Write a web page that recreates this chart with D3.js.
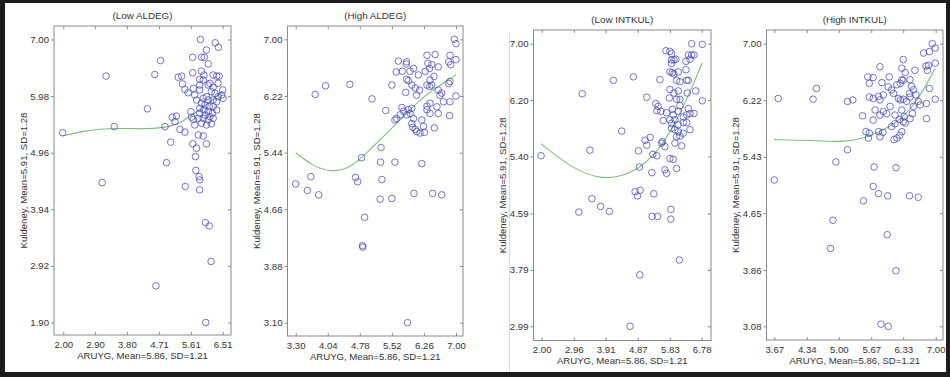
<!DOCTYPE html>
<html>
<head>
<meta charset="utf-8">
<script src="https://cdn.jsdelivr.net/npm/d3@7"></script>
<style>
  body { margin: 0; background: #fff; }
  svg text { font-family: "Liberation Sans", Arial, sans-serif; fill: #333; }
</style>
</head>
<body>
<div id="chart"></div>
<script>
// ---- data ----
const titles = ['(Low ALDEG)', '(High ALDEG)', '(Low INTKUL)', '(High INTKUL)'];
const xLabel = 'ARUYG, Mean=5.86, SD=1.21';
const yLabel = 'Kuldeney, Mean=5.91, SD=1.28';

const xTicksLowAldeg = [2.00, 2.90, 3.80, 4.71, 5.61, 6.51];
const yTicksLowAldeg = [7.00, 5.98, 4.96, 3.94, 2.92, 1.90];
const xTicksHighAldeg = [3.30, 4.04, 4.78, 5.52, 6.26, 7.00];
const yTicksHighAldeg = [7.00, 6.22, 5.44, 4.66, 3.88, 3.10];
const xTicksLowIntkul = [2.00, 2.96, 3.91, 4.87, 5.83, 6.78];
const yTicksLowIntkul = [7.00, 6.20, 5.40, 4.59, 3.79, 2.99];
const xTicksHighIntkul = [3.67, 4.34, 5.00, 5.67, 6.33, 7.00];
const yTicksHighIntkul = [7.00, 6.22, 5.43, 4.65, 3.86, 3.08];

const lowAldegPts = [
  [1.98,5.32],[3.21,6.34],[3.44,5.43],[3.10,4.42],[4.38,5.75],[4.75,6.62],[4.59,6.37],[4.88,5.43],
  [4.92,4.78],[5.04,5.15],[5.08,5.60],[5.20,5.62],[5.16,5.52],[5.25,6.32],[5.35,6.34],[5.30,5.38],
  [5.44,5.33],[5.37,6.20],[5.44,6.10],[5.53,6.04],[5.66,6.68],[5.66,6.40],[5.61,5.70],[5.68,5.56],
  [5.72,5.46],[5.63,5.60],[5.66,5.12],[5.77,5.04],[5.82,5.28],[5.96,5.26],[6.05,5.12],[5.88,7.00],
  [5.91,6.68],[5.99,6.68],[6.05,6.81],[6.10,6.56],[5.91,6.43],[5.98,6.36],[5.86,6.28],[5.96,6.27],
  [6.24,6.36],[6.34,6.34],[6.41,6.34],[6.30,6.94],[6.39,6.86],[6.15,6.21],[6.24,6.14],[6.19,6.06],
  [6.29,6.03],[6.51,6.09],[6.38,5.97],[6.52,5.94],[6.05,5.97],[6.10,5.91],[6.24,5.91],[6.34,5.88],
  [5.96,5.94],[5.91,5.85],[6.01,5.82],[6.13,5.79],[6.24,5.79],[6.34,5.73],[5.86,5.76],[5.98,5.73],
  [6.10,5.70],[6.22,5.67],[5.86,5.67],[6.01,5.64],[6.15,5.61],[5.82,5.58],[5.96,5.58],[6.10,5.55],
  [6.24,5.58],[5.91,5.49],[6.05,5.46],[6.19,5.48],[5.86,6.18],[6.10,6.18],[6.38,6.21],[5.86,6.09],
  [5.72,6.00],[5.77,5.91],[6.48,6.00],[5.68,6.12],[5.45,4.35],[5.86,4.47],[5.86,4.29],[6.02,3.70],
  [6.13,3.64],[6.18,3.00],[4.62,2.56],[6.03,1.90],[5.75,4.64],[5.84,4.53],[5.74,4.89]
];
const highAldegPts = [
  [3.30,5.01],[3.57,4.92],[3.65,5.11],[3.75,6.24],[3.99,6.36],[4.55,6.38],[5.06,6.18],[4.82,5.37],
  [4.68,5.10],[4.73,5.04],[5.27,5.51],[5.26,5.31],[5.59,5.31],[5.29,5.07],[6.21,5.29],[5.38,6.02],
  [5.52,6.37],[5.67,6.70],[5.86,6.69],[5.85,6.66],[5.62,6.55],[5.76,6.56],[6.02,6.60],[5.86,6.45],
  [5.90,6.43],[5.84,6.27],[5.98,6.37],[6.06,6.33],[6.16,6.30],[6.09,6.23],[6.33,6.78],[6.52,6.79],
  [6.35,6.67],[6.44,6.65],[6.59,6.62],[6.39,6.60],[6.29,6.56],[6.86,6.78],[6.83,6.69],[6.88,6.65],
  [7.00,6.72],[6.96,7.00],[7.00,6.94],[6.86,6.42],[6.83,6.39],[6.59,6.30],[6.63,6.23],[6.67,6.26],
  [7.00,6.22],[6.40,6.44],[6.33,6.37],[6.39,6.35],[6.44,6.37],[6.49,6.49],[6.71,6.14],[6.86,6.14],
  [6.56,6.07],[6.33,6.08],[6.40,5.98],[6.59,5.98],[6.85,5.95],[5.75,6.06],[5.79,6.01],[5.90,6.03],
  [5.98,6.05],[5.94,5.98],[5.86,5.96],[5.71,5.96],[5.63,5.91],[5.59,5.89],[6.02,5.91],[5.98,5.84],
  [6.21,5.89],[6.09,5.73],[6.17,5.71],[6.00,5.79],[6.06,5.76],[6.25,5.80],[6.50,5.78],[6.27,5.72],
  [6.33,6.03],[6.40,6.12],[5.94,6.56],[6.13,6.51],[3.83,4.86],[5.25,4.80],[5.52,4.81],[6.03,4.88],
  [6.46,4.88],[6.67,4.86],[4.89,4.55],[4.84,4.16],[4.85,4.14],[5.88,3.10]
];
const lowIntkulPts = [
  [1.98,5.41],[3.21,6.29],[3.44,5.49],[4.14,6.48],[4.39,5.76],[4.74,6.53],[4.89,5.48],[4.92,5.25],
  [5.09,5.63],[5.24,5.67],[5.14,5.56],[5.32,5.43],[5.44,5.41],[5.29,5.17],[5.14,6.24],[5.53,6.49],
  [5.41,6.15],[5.48,6.11],[5.44,6.05],[5.56,6.04],[5.61,5.61],[5.68,5.54],[5.58,5.59],[5.83,5.37],
  [5.93,5.36],[6.03,5.23],[5.68,5.21],[5.73,5.16],[5.63,5.91],[5.71,6.90],[5.83,6.89],[5.88,6.86],
  [5.88,6.77],[5.95,6.77],[6.01,6.78],[5.88,6.72],[5.83,6.60],[5.90,6.59],[5.95,6.57],[6.08,6.60],
  [6.03,6.48],[6.13,6.46],[6.31,6.63],[6.33,6.48],[6.38,6.48],[6.31,6.75],[6.38,6.84],[6.48,6.84],
  [6.55,6.84],[6.48,7.00],[6.80,6.99],[6.43,6.78],[5.83,6.35],[5.95,6.30],[6.08,6.33],[6.13,6.21],
  [6.03,6.21],[5.81,6.23],[6.35,6.30],[6.60,6.33],[6.80,6.19],[5.73,6.02],[5.91,6.07],[5.93,5.99],
  [6.08,6.04],[6.23,5.96],[6.33,5.99],[6.43,6.01],[6.55,6.01],[6.38,6.08],[6.13,6.12],[5.83,5.92],
  [5.88,5.87],[5.98,5.92],[6.08,5.85],[6.23,5.88],[6.33,5.88],[5.88,5.80],[5.98,5.78],[6.08,5.75],
  [6.13,5.69],[6.03,5.68],[6.18,5.55],[5.98,5.59],[6.43,5.78],[6.23,5.73],[3.11,4.61],[3.50,4.80],
  [3.76,4.69],[4.02,4.62],[4.79,4.90],[4.94,4.92],[4.86,4.84],[5.35,4.87],[5.30,4.55],[5.46,4.55],
  [5.86,4.65],[5.86,4.51],[6.11,3.93],[4.93,3.72],[4.64,2.99]
];
const highIntkulPts = [
  [3.67,5.11],[3.75,6.24],[4.47,6.23],[4.54,6.38],[4.94,5.36],[5.18,5.53],[5.18,6.20],[5.29,6.22],
  [5.49,6.00],[5.56,5.78],[5.63,5.76],[5.61,5.69],[5.73,5.29],[6.18,5.28],[5.71,5.02],[5.60,6.54],
  [5.71,6.53],[5.63,6.45],[5.85,6.68],[5.89,6.46],[5.92,6.29],[5.82,6.27],[5.85,6.22],[5.71,6.24],
  [5.63,6.26],[5.75,6.08],[5.71,5.94],[5.85,6.01],[5.92,6.06],[5.99,6.03],[5.82,5.78],[5.85,5.71],
  [5.91,5.77],[6.04,6.54],[6.09,6.36],[6.13,6.31],[6.20,6.43],[6.27,6.45],[6.30,6.50],[6.33,6.49],
  [6.47,6.50],[6.33,6.78],[6.30,6.66],[6.37,6.60],[6.57,6.63],[6.50,6.41],[6.54,6.36],[6.46,6.31],
  [6.16,6.01],[6.06,6.13],[6.27,6.22],[6.23,6.24],[6.33,6.23],[6.40,6.20],[6.47,6.26],[6.59,6.29],
  [6.64,6.20],[6.54,6.13],[6.68,6.15],[6.81,6.17],[6.09,5.85],[6.16,5.89],[6.25,5.95],[6.33,5.92],
  [6.37,5.90],[6.30,5.78],[6.26,5.73],[6.20,5.69],[6.14,5.67],[6.75,6.87],[6.80,6.69],[6.83,6.63],
  [6.85,6.70],[6.87,6.38],[6.99,6.73],[6.99,6.23],[6.81,5.96],[6.93,7.00],[6.99,6.94],[6.87,6.89],
  [6.30,6.08],[6.35,5.99],[6.47,5.96],[6.52,6.03],[6.02,6.40],[5.82,4.92],[6.01,4.89],[5.51,4.82],
  [6.46,4.89],[6.64,4.87],[4.88,4.55],[4.83,4.16],[6.00,4.35],[6.18,3.85],[5.87,3.11],[6.02,3.08]
];

// smoothed fit lines
const lowAldegFit = [[1.98,5.26],[2.5,5.34],[3.04,5.39],[3.6,5.40],[4.2,5.39],[4.64,5.40],[5.0,5.43],
  [5.3,5.49],[5.49,5.58],[5.86,5.73],[6.2,5.91],[6.52,6.06]];
const highAldegFit = [[3.30,5.44],[3.71,5.25],[4.13,5.17],[4.55,5.23],[4.86,5.39],[5.25,5.62],
  [5.63,5.84],[5.94,6.03],[6.25,6.21],[6.63,6.37],[7.00,6.51]];
const lowIntkulFit = [[1.98,5.58],[2.85,5.25],[3.69,5.08],[4.34,5.11],[4.84,5.21],[5.34,5.40],
  [5.83,5.73],[6.33,6.20],[6.80,6.73]];
const highIntkulFit = [[3.67,5.67],[4.41,5.66],[5.16,5.63],[5.64,5.71],[6.19,5.89],[6.60,6.17],[6.99,6.66]];

// ---- layout ----
const panels = [
  { title: titles[0], pts: lowAldegPts, fit: lowAldegFit, xt: xTicksLowAldeg, yt: yTicksLowAldeg,
    frame: [54, 26, 231, 335], xr: [63.3, 222.7], yr: [39.5, 322.5] },
  { title: titles[1], pts: highAldegPts, fit: highAldegFit, xt: xTicksHighAldeg, yt: yTicksHighAldeg,
    frame: [287.5, 26, 463, 336], xr: [295.7, 456], yr: [39.3, 322.7] },
  { title: titles[2], pts: lowIntkulPts, fit: lowIntkulFit, xt: xTicksLowIntkul, yt: yTicksLowIntkul,
    frame: [533.5, 30, 711, 340.5], xr: [541.7, 701.7], yr: [43.7, 326.3] },
  { title: titles[3], pts: highIntkulPts, fit: highIntkulFit, xt: xTicksHighIntkul, yt: yTicksHighIntkul,
    frame: [766.5, 30, 943, 340], xr: [774.3, 935.7], yr: [43.7, 326.3] }
];

const svg = d3.select('#chart')
  .append('svg')
  .attr('width', 950)
  .attr('height', 377);

svg.append('rect').attr('width', 950).attr('height', 377).attr('fill', '#fff');

// faint seam between the two halves of the figure
svg.append('line')
  .attr('x1', 509.5).attr('x2', 509.5)
  .attr('y1', 33).attr('y2', 372)
  .attr('stroke', '#dadada')
  .attr('stroke-width', 1);

panels.forEach(p => {
  const [x0, y0, x1, y1] = p.frame;
  const x = d3.scaleLinear().domain([p.xt[0], p.xt[p.xt.length - 1]]).range(p.xr);
  const y = d3.scaleLinear().domain([p.yt[0], p.yt[p.yt.length - 1]]).range(p.yr);

  const g = svg.append('g');

  // axes: labelled left and bottom, inward ticks on every side
  const fmt = d3.format('.2f');
  g.append('g').attr('transform', `translate(${x0},0)`)
    .call(d3.axisLeft(y).tickValues(p.yt).tickFormat(fmt).tickSize(3).tickPadding(2));
  g.append('g').attr('transform', `translate(0,${y1})`)
    .call(d3.axisBottom(x).tickValues(p.xt).tickFormat(fmt).tickSize(-3).tickPadding(6));
  g.append('g').attr('transform', `translate(${x1},0)`)
    .call(d3.axisRight(y).tickValues(p.yt).tickFormat('').tickSize(-3));
  g.append('g').attr('transform', `translate(0,${y0})`)
    .call(d3.axisTop(x).tickValues(p.xt).tickFormat('').tickSize(-3));

  g.selectAll('.domain').remove();
  g.selectAll('.tick line').attr('stroke', '#8a8a8a');
  g.selectAll('.tick text').style('font-size', '9.6px').attr('fill', '#333');

  g.append('rect')
    .attr('x', x0).attr('y', y0)
    .attr('width', x1 - x0).attr('height', y1 - y0)
    .attr('fill', 'none')
    .attr('stroke', '#8a8a8a')
    .attr('stroke-width', 1);

  // fitted curve
  g.append('path')
    .datum(p.fit)
    .attr('fill', 'none')
    .attr('stroke', '#7cc07c')
    .attr('stroke-width', 1.1)
    .attr('d', d3.line().x(d => x(d[0])).y(d => y(d[1])).curve(d3.curveBasis));

  // points
  g.selectAll('.pt')
    .data(p.pts)
    .enter()
    .append('circle')
    .attr('class', 'pt')
    .attr('cx', d => x(d[0]))
    .attr('cy', d => y(d[1]))
    .attr('r', 3.3)
    .attr('fill', 'none')
    .attr('stroke', '#4a4ab8')
    .attr('stroke-opacity', 0.85)
    .attr('stroke-width', 0.9);

  // texts
  const cx = (x0 + x1) / 2;
  g.append('text')
    .attr('x', cx).attr('y', y0 - 10)
    .attr('text-anchor', 'middle')
    .attr('dy', '0.35em')
    .style('font-size', '9.8px')
    .text(p.title);

  g.append('text')
    .attr('x', cx).attr('y', y1 + 20.5)
    .attr('text-anchor', 'middle')
    .attr('dy', '0.35em')
    .style('font-size', '9.6px')
    .text(xLabel);

  g.append('text')
    .attr('transform', `translate(${x0 - 30.5},${(y0 + y1) / 2}) rotate(-90)`)
    .attr('text-anchor', 'middle')
    .attr('dy', '0.35em')
    .style('font-size', '9.6px')
    .text(yLabel);
});

// dark picture border
const border = '#1c1c1c';
svg.append('rect').attr('x', 0).attr('y', 0).attr('width', 950).attr('height', 3).attr('fill', border);
svg.append('rect').attr('x', 0).attr('y', 372).attr('width', 950).attr('height', 5).attr('fill', border);
svg.append('rect').attr('x', 0).attr('y', 0).attr('width', 5).attr('height', 377).attr('fill', border);
svg.append('rect').attr('x', 946).attr('y', 0).attr('width', 4).attr('height', 377).attr('fill', border);
</script>
</body>
</html>
